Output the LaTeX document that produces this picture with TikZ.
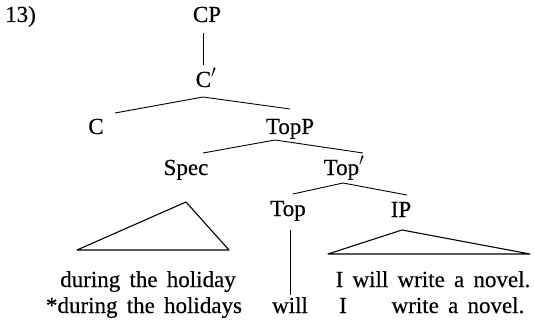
\documentclass[tikz,border=0pt]{standalone}
\usepackage{fontspec}
\setmainfont[WordSpace=1.6,FakeBold=0.4]{Liberation Serif}
\begin{document}
\begin{tikzpicture}[x=1pt,y=-1pt,
  lbl/.style={inner sep=0pt,anchor=base,font=\fontsize{23}{27}\selectfont},
  lblw/.style={inner sep=0pt,anchor=base west,font=\fontsize{23}{27}\selectfont},
  branch/.style={line width=0.9pt,line join=round},
  tri/.style={line width=1.1pt,line join=round}]
\useasboundingbox (0,0) rectangle (534,331);
% labels
\node[lblw] (num) at (5,22) {13)};
\node[lbl] (cp) at (207,22) {CP};
\node[lbl] (cbar) at (206,87) {C$'$};
\node[lbl] (c) at (96,134) {C};
\node[lbl] (topp) at (290,134) {TopP};
\node[lbl] (spec) at (186,175) {Spec};
\node[lbl] (topbar) at (344,175) {Top$'$};
\node[lbl] (top) at (288,216) {Top};
\node[lbl] (ip) at (401,217) {IP};
% terminal strings
\node[lbl] (s1) at (148,287) {during the holiday};
\node[lbl] (s2) at (144,313) {*during the holidays};
\node[lbl] (r1) at (433,287) {I will write a novel.};
\node[lbl] (w2) at (290,313) {will};
\node[lbl] (i2) at (343,313) {I};
\node[lbl] (r2) at (458,313) {write a novel.};
% branch points
\coordinate (cpB) at (203,33);
\coordinate (cbarT) at (203,65);
\coordinate (cbarA) at (203,97);
\coordinate (cL) at (115,113);
\coordinate (toppR) at (290,109);
\coordinate (toppA) at (275,140);
\coordinate (specL) at (203,153);
\coordinate (topbarR) at (363,153);
\coordinate (topbarA) at (343,183);
\coordinate (topL) at (293,194);
\coordinate (ipR) at (407,195);
\coordinate (specA) at (186,202);
\coordinate (specTL) at (77,250);
\coordinate (specTR) at (229,250);
\coordinate (ipA) at (402,230);
\coordinate (ipTL) at (328,254);
\coordinate (ipTR) at (530,254);
\coordinate (topB) at (290,230);
\coordinate (willT) at (290,295);
% connectors
\draw[branch] (cpB) -- (cbarT);
\draw[branch] (cL) -- (cbarA) -- (toppR);
\draw[branch] (specL) -- (toppA) -- (topbarR);
\draw[branch] (topL) -- (topbarA) -- (ipR);
\draw[branch] (topB) -- (willT);
\draw[tri] (specA) -- (specTL) -- (specTR) -- cycle;
\draw[tri] (ipA) -- (ipTL) -- (ipTR) -- cycle;
\end{tikzpicture}
\end{document}
